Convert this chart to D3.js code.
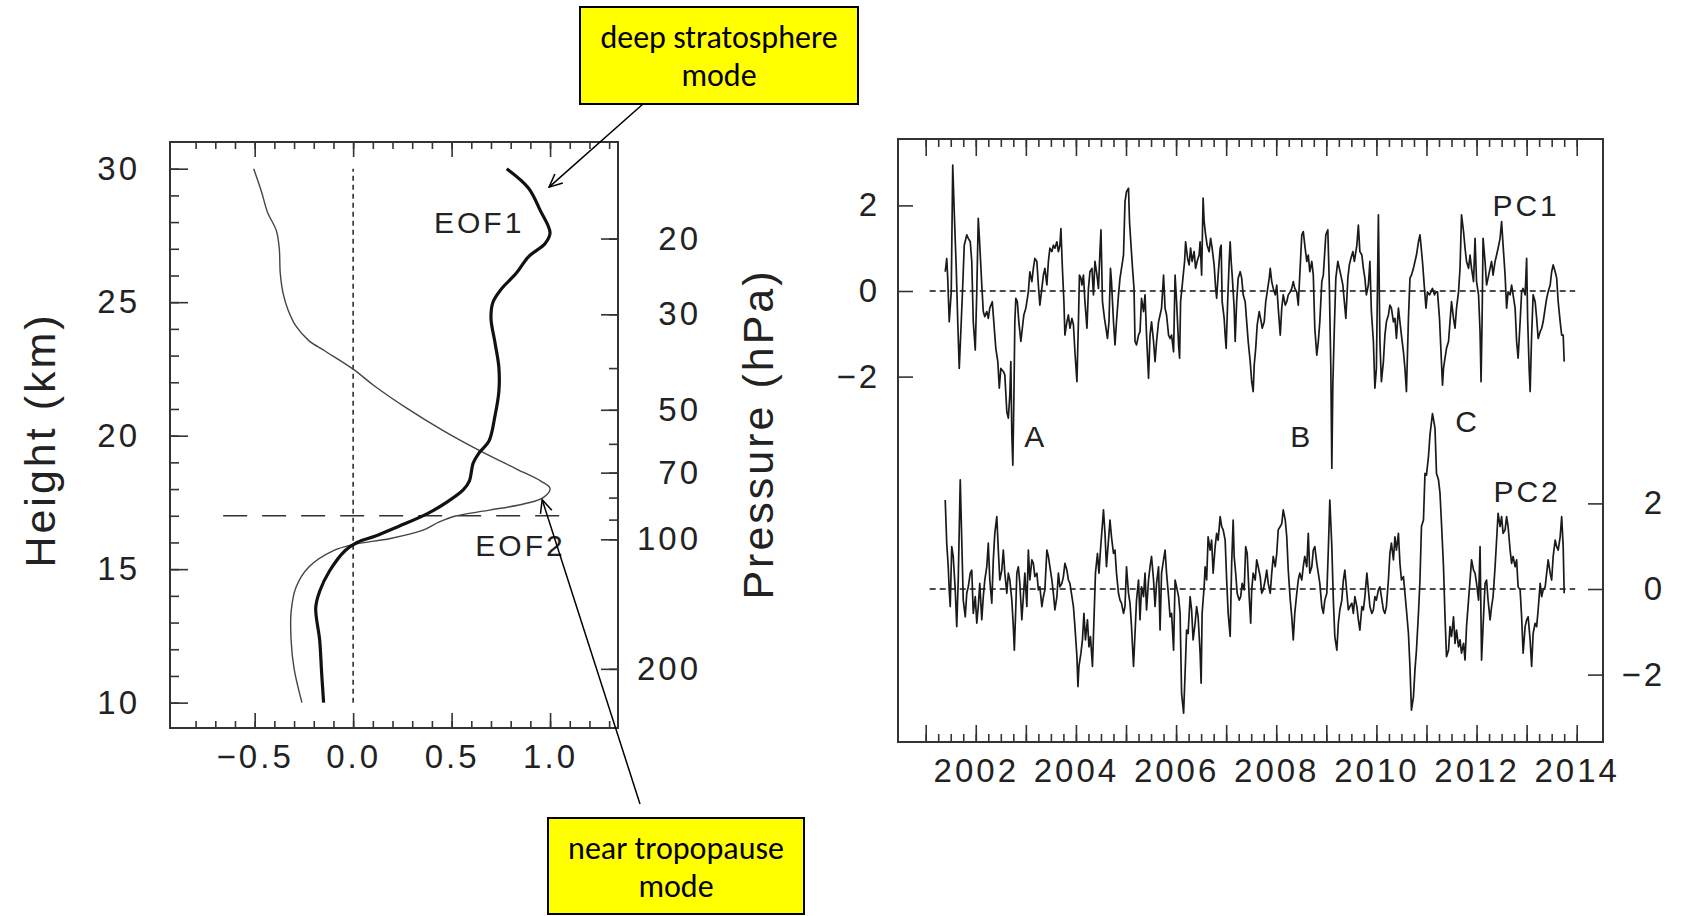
<!DOCTYPE html>
<html>
<head>
<meta charset="utf-8">
<script src="https://cdn.jsdelivr.net/npm/d3@7"></script>
<style>
  body { margin: 0; background: #fff; }
  svg { display: block; }
  .axis text { font-family: "Liberation Sans", Arial, sans-serif; font-size: 33px; fill: #222; letter-spacing: 3px; }
  .axis line { stroke: #333; stroke-width: 1.6; }
  .axis path { display: none; }
  .title { font-family: "Liberation Sans", Arial, sans-serif; font-size: 43px; fill: #222; letter-spacing: 3px; }
  .note { font-family: "Liberation Sans", Arial, sans-serif; font-size: 30px; fill: #222; letter-spacing: 3px; }
  .callout { font-family: Carlito, Lato, "Open Sans", sans-serif; font-size: 32px; fill: #000; }
</style>
</head>
<body>
<svg id="chart" width="1681" height="916"></svg>
<script>
// ---- left panel: EOF profiles (height in km, loading) ----
const eof1Height = [30, 29.28, 28.44, 27.6, 27.2, 26.7, 26.1, 25.47, 25.0, 24.4, 23.5, 22.56, 21.65, 20.73, 19.8, 19.36, 18.98, 18.3, 17.98, 17.53, 17.07, 16.6, 16.23, 16.0, 15.7, 14.93, 14.17, 13.56, 12.34, 11.12, 10.0];
const eof1Value = [0.78, 0.89, 0.95, 1.0, 0.975, 0.89, 0.83, 0.75, 0.71, 0.70, 0.72, 0.74, 0.74, 0.72, 0.69, 0.64, 0.61, 0.59, 0.56, 0.48, 0.375, 0.23, 0.11, 0.02, -0.04, -0.12, -0.17, -0.19, -0.17, -0.16, -0.15];
const eof2Height = [30, 29.13, 28.37, 27.68, 27.0, 26.08, 25.31, 24.7, 24.1, 23.56, 23.18, 22.49, 21.88, 21.04, 20.2, 19.43, 18.75, 18.29, 18.02, 17.68, 17.45, 17.2, 16.99, 16.76, 16.46, 16.15, 15.92, 15.69, 15.08, 14.32, 13.4, 12.34, 11.27, 10.0];
const eof2Value = [-0.505, -0.465, -0.435, -0.39, -0.375, -0.37, -0.355, -0.33, -0.29, -0.225, -0.145, 0.0, 0.105, 0.27, 0.455, 0.645, 0.83, 0.955, 1.0, 0.965, 0.87, 0.685, 0.52, 0.435, 0.355, 0.19, 0.0, -0.10, -0.225, -0.29, -0.315, -0.315, -0.30, -0.26];
const tropopauseHeight = 17;

const heightLabels = [10, 15, 20, 25, 30];
const eofLabels = [-0.5, 0.0, 0.5, 1.0];
const pressureTicks = [20, 30, 40, 50, 60, 70, 80, 90, 100, 200];
const pressureLabels = [20, 30, 50, 70, 100, 200];

// ---- right panel: principal component time series [decimal year, value] ----
const pc1 = [[2001.39,0.45],[2001.42,0.76],[2001.44,0.30],[2001.47,-0.72],[2001.51,-0.02],[2001.54,2.94],[2001.57,1.85],[2001.61,0.53],[2001.64,-0.72],[2001.67,-1.81],[2001.71,-0.72],[2001.74,0.14],[2001.77,1.07],[2001.82,1.31],[2001.85,1.23],[2001.89,1.15],[2001.92,0.69],[2001.95,-0.72],[2001.99,-1.38],[2002.02,-0.02],[2002.05,1.70],[2002.08,1.07],[2002.12,0.14],[2002.15,-0.48],[2002.18,-0.60],[2002.22,-0.48],[2002.25,-0.64],[2002.28,-0.40],[2002.33,-0.25],[2002.36,-0.72],[2002.40,-1.34],[2002.44,-1.65],[2002.47,-2.27],[2002.50,-1.81],[2002.55,-1.88],[2002.58,-1.96],[2002.62,-2.82],[2002.65,-2.97],[2002.68,-2.43],[2002.70,-1.65],[2002.72,-3.36],[2002.74,-4.07],[2002.76,-2.59],[2002.78,-0.72],[2002.80,-0.17],[2002.83,-0.25],[2002.86,-0.72],[2002.90,-1.18],[2002.93,-0.87],[2002.96,-0.56],[2003.00,-0.40],[2003.05,-0.02],[2003.08,0.45],[2003.12,0.22],[2003.15,0.53],[2003.18,0.76],[2003.22,0.69],[2003.25,0.14],[2003.28,-0.33],[2003.32,0.06],[2003.35,0.37],[2003.38,0.53],[2003.42,0.14],[2003.45,0.69],[2003.48,1.00],[2003.52,0.92],[2003.55,1.07],[2003.58,1.00],[2003.62,1.15],[2003.65,0.92],[2003.68,1.07],[2003.70,1.46],[2003.73,0.53],[2003.76,-0.25],[2003.78,-1.03],[2003.82,-0.72],[2003.85,-0.56],[2003.88,-0.87],[2003.92,-0.64],[2003.95,-0.79],[2003.98,-1.42],[2004.02,-2.12],[2004.05,-0.72],[2004.07,0.37],[2004.10,0.30],[2004.12,0.14],[2004.15,0.37],[2004.18,-0.25],[2004.22,-0.87],[2004.25,0.06],[2004.28,0.45],[2004.32,0.53],[2004.35,-0.09],[2004.38,0.69],[2004.42,0.37],[2004.45,0.06],[2004.48,0.92],[2004.50,1.43],[2004.53,-0.25],[2004.57,-0.64],[2004.60,-0.87],[2004.63,-1.11],[2004.66,-0.72],[2004.69,0.53],[2004.71,0.22],[2004.75,-0.72],[2004.78,-1.26],[2004.81,-0.72],[2004.85,-0.09],[2004.88,0.30],[2004.91,0.53],[2004.95,0.84],[2004.98,2.09],[2005.01,2.32],[2005.05,2.40],[2005.07,1.62],[2005.10,1.07],[2005.13,0.53],[2005.16,0.06],[2005.18,-1.18],[2005.21,-1.26],[2005.25,-1.03],[2005.28,-0.95],
  [2005.31,-0.17],[2005.35,-0.48],[2005.38,-0.09],[2005.41,-1.03],[2005.45,-2.04],[2005.48,-1.03],[2005.51,-0.72],[2005.55,-1.18],[2005.58,-1.65],[2005.61,-1.18],[2005.65,-0.72],[2005.68,-0.56],[2005.71,-0.40],[2005.75,0.37],[2005.78,-0.40],[2005.81,-0.56],[2005.85,-1.03],[2005.88,-1.11],[2005.91,-1.03],[2005.95,-1.42],[2005.98,0.37],[2006.01,-0.25],[2006.05,-1.26],[2006.07,-1.57],[2006.09,-0.25],[2006.13,0.22],[2006.17,0.69],[2006.19,1.15],[2006.23,0.76],[2006.26,0.61],[2006.29,1.00],[2006.32,0.69],[2006.36,0.92],[2006.39,0.53],[2006.42,0.69],[2006.46,0.84],[2006.48,1.15],[2006.51,0.37],[2006.54,2.17],[2006.56,1.62],[2006.59,1.31],[2006.62,1.07],[2006.66,0.92],[2006.69,1.23],[2006.72,1.00],[2006.76,0.61],[2006.79,0.06],[2006.81,-0.17],[2006.84,0.37],[2006.88,1.00],[2006.90,1.07],[2006.92,-0.25],[2006.96,-0.64],[2006.98,-1.03],[2007.00,-1.34],[2007.03,-0.25],[2007.06,0.69],[2007.08,1.15],[2007.10,0.69],[2007.12,0.37],[2007.16,-0.40],[2007.18,-1.18],[2007.21,-0.25],[2007.24,0.30],[2007.28,0.45],[2007.31,0.30],[2007.34,-0.09],[2007.38,-0.25],[2007.41,-0.72],[2007.44,-1.18],[2007.48,-1.65],[2007.51,-2.12],[2007.54,-2.35],[2007.56,-1.73],[2007.59,-1.34],[2007.62,-0.79],[2007.66,-0.48],[2007.70,-0.72],[2007.72,-0.87],[2007.76,-0.72],[2007.79,-0.25],[2007.82,-0.02],[2007.86,0.30],[2007.88,0.53],[2007.91,0.22],[2007.94,0.06],[2007.98,-0.09],[2008.01,0.14],[2008.04,-0.40],[2008.08,-1.03],[2008.11,-0.40],[2008.14,-0.09],[2008.18,-0.33],[2008.21,-0.25],[2008.24,-0.09],[2008.28,-0.02],[2008.31,0.06],[2008.34,0.22],[2008.37,0.06],[2008.41,-0.02],[2008.44,-0.33],[2008.47,0.37],[2008.51,1.31],[2008.54,1.39],[2008.57,1.07],[2008.61,0.69],[2008.64,0.84],[2008.67,0.45],[2008.71,0.69],[2008.74,0.37],[2008.77,-0.87],[2008.81,-1.50],[2008.84,-1.18],[2008.87,-0.72],[2008.91,0.22],[2008.94,0.37],[2008.99,1.31],[2009.03,1.43],[2009.06,0.14],[2009.09,-1.81],[2009.11,-4.14],[2009.13,-2.20],[2009.16,-0.87],[2009.19,0.30],[2009.23,0.69],[2009.26,0.53],[2009.29,0.37],[2009.33,0.14],[2009.36,-0.25],[2009.39,-0.64],[2009.43,0.30],[2009.46,0.61],[2009.49,0.76],[2009.53,0.92],[2009.56,0.69],
  [2009.61,1.07],[2009.64,1.54],[2009.67,0.92],[2009.71,0.84],[2009.74,0.53],[2009.77,0.30],[2009.80,-0.09],[2009.84,0.14],[2009.87,0.69],[2009.90,-0.48],[2009.94,-1.18],[2009.97,-2.27],[2010.00,-1.81],[2010.04,1.78],[2010.07,-1.18],[2010.10,-2.12],[2010.14,-1.65],[2010.17,-1.03],[2010.20,-0.72],[2010.24,-0.56],[2010.27,-0.33],[2010.30,-0.40],[2010.34,-0.72],[2010.37,-0.64],[2010.40,-1.11],[2010.44,-0.40],[2010.47,-0.72],[2010.50,-1.03],[2010.54,-1.42],[2010.57,-1.81],[2010.60,-2.35],[2010.64,-0.64],[2010.67,0.30],[2010.70,0.37],[2010.74,0.53],[2010.77,0.69],[2010.80,0.84],[2010.84,1.15],[2010.87,1.31],[2010.89,1.07],[2010.92,0.69],[2010.96,0.06],[2010.99,-0.40],[2011.02,-0.02],[2011.06,-0.09],[2011.09,-0.02],[2011.12,0.06],[2011.16,-0.09],[2011.19,-0.02],[2011.22,-0.02],[2011.26,-0.64],[2011.29,-1.42],[2011.32,-2.20],[2011.34,-1.81],[2011.37,-1.57],[2011.40,-1.34],[2011.44,-1.18],[2011.47,-0.72],[2011.50,-0.25],[2011.54,-0.64],[2011.57,-0.87],[2011.60,-0.40],[2011.64,-0.02],[2011.67,0.53],[2011.70,1.78],[2011.74,1.39],[2011.77,1.00],[2011.80,0.69],[2011.84,0.53],[2011.87,0.84],[2011.90,0.53],[2011.94,0.22],[2011.97,1.23],[2012.00,0.22],[2012.04,-0.09],[2012.07,-0.95],[2012.09,-2.12],[2012.11,-0.72],[2012.13,1.23],[2012.17,0.69],[2012.20,0.14],[2012.23,0.30],[2012.27,0.53],[2012.30,0.69],[2012.33,0.37],[2012.37,0.69],[2012.40,0.84],[2012.43,1.00],[2012.47,1.23],[2012.50,1.62],[2012.53,1.07],[2012.57,0.37],[2012.60,-0.40],[2012.63,-0.02],[2012.67,-0.09],[2012.70,0.14],[2012.73,-0.09],[2012.77,-0.40],[2012.80,-1.18],[2012.83,-1.57],[2012.87,-0.72],[2012.90,-0.02],[2012.93,0.06],[2012.97,-0.09],[2013.00,0.76],[2013.02,-0.64],[2013.05,-1.81],[2013.07,-2.35],[2013.10,-1.03],[2013.13,-0.09],[2013.17,-0.25],[2013.20,-0.64],[2013.23,-1.11],[2013.27,-0.95],[2013.30,-0.87],[2013.33,-0.72],[2013.37,-0.40],[2013.40,-0.17],[2013.43,-0.02],[2013.47,0.14],[2013.50,0.45],[2013.53,0.61],[2013.57,0.45],[2013.60,0.30],[2013.63,-0.25],[2013.67,-0.72],[2013.70,-1.03],[2013.73,-1.03],[2013.75,-1.65]];

const pc2 = [[2001.39,2.08],[2001.42,1.07],[2001.45,0.52],[2001.47,-0.02],[2001.49,-0.41],[2001.52,0.99],[2001.55,0.76],[2001.59,-0.02],[2001.62,-0.88],[2001.65,0.21],[2001.69,2.55],[2001.72,1.14],[2001.75,-0.26],[2001.79,-0.65],[2001.82,-0.10],[2001.85,0.05],[2001.89,0.37],[2001.92,0.44],[2001.95,-0.57],[2001.99,-0.18],[2002.02,-0.80],[2002.05,-0.41],[2002.08,0.13],[2002.12,-0.72],[2002.15,-0.18],[2002.18,0.21],[2002.22,0.52],[2002.25,1.07],[2002.28,0.21],[2002.32,-0.33],[2002.35,0.68],[2002.38,1.30],[2002.42,1.69],[2002.45,0.91],[2002.48,0.21],[2002.52,0.44],[2002.55,0.91],[2002.58,0.37],[2002.62,-0.10],[2002.65,0.37],[2002.68,0.21],[2002.72,-0.26],[2002.75,-0.88],[2002.77,-1.43],[2002.80,-0.41],[2002.82,0.37],[2002.85,0.52],[2002.88,0.13],[2002.92,-0.72],[2002.95,-0.18],[2002.98,0.37],[2003.02,-0.41],[2003.05,0.91],[2003.08,0.21],[2003.12,0.68],[2003.15,0.60],[2003.18,0.29],[2003.22,0.37],[2003.25,-0.02],[2003.28,0.05],[2003.32,-0.41],[2003.35,-0.18],[2003.38,-0.02],[2003.42,0.91],[2003.45,0.76],[2003.48,0.52],[2003.52,0.21],[2003.55,-0.10],[2003.58,-0.49],[2003.62,-0.18],[2003.65,0.37],[2003.68,0.05],[2003.72,0.13],[2003.75,0.29],[2003.78,0.60],[2003.82,0.44],[2003.85,0.21],[2003.88,0.13],[2003.92,-0.18],[2003.95,-0.41],[2003.98,-0.88],[2004.02,-1.58],[2004.04,-2.28],[2004.06,-1.81],[2004.10,-1.50],[2004.13,-1.19],[2004.16,-0.57],[2004.19,-1.19],[2004.23,-0.72],[2004.26,-1.35],[2004.29,-1.11],[2004.33,-1.81],[2004.36,-0.72],[2004.39,0.37],[2004.43,0.83],[2004.46,0.37],[2004.49,0.91],[2004.53,1.53],[2004.55,1.85],[2004.58,1.30],[2004.61,0.52],[2004.65,1.14],[2004.68,1.61],[2004.71,1.22],[2004.75,0.83],[2004.78,0.91],[2004.81,0.37],[2004.85,-0.10],[2004.88,-0.26],[2004.91,-0.33],[2004.95,-0.57],[2004.98,-0.41],[2005.01,0.52],[2005.05,-0.10],[2005.08,-0.33],[2005.11,-0.88],[2005.15,-1.81],[2005.18,-1.04],[2005.21,-0.26],[2005.25,0.21],
  [2005.28,-0.72],[2005.31,0.05],[2005.35,-0.18],[2005.38,0.37],[2005.41,-0.49],[2005.45,0.21],[2005.48,0.52],[2005.51,0.76],[2005.55,0.21],[2005.58,-0.41],[2005.61,0.13],[2005.65,0.52],[2005.68,-0.96],[2005.71,0.37],[2005.75,0.68],[2005.78,0.91],[2005.81,0.37],[2005.85,-0.18],[2005.88,-0.65],[2005.91,-0.57],[2005.95,-1.43],[2005.98,0.21],[2006.01,0.05],[2006.05,-0.18],[2006.08,-0.57],[2006.11,-2.44],[2006.15,-2.90],[2006.18,-1.97],[2006.21,-0.96],[2006.24,-1.04],[2006.28,-0.18],[2006.31,-0.49],[2006.34,-1.19],[2006.38,-0.80],[2006.41,-0.41],[2006.44,-0.65],[2006.48,-1.50],[2006.50,-2.20],[2006.52,-0.57],[2006.56,0.05],[2006.58,0.52],[2006.61,0.21],[2006.64,1.22],[2006.68,0.91],[2006.71,1.14],[2006.74,0.37],[2006.78,0.99],[2006.81,1.30],[2006.84,1.14],[2006.88,1.69],[2006.91,1.46],[2006.94,1.38],[2006.98,1.14],[2007.01,0.21],[2007.04,-0.57],[2007.08,-1.11],[2007.11,0.60],[2007.14,1.61],[2007.16,0.76],[2007.19,0.37],[2007.22,-0.10],[2007.26,-0.26],[2007.29,-0.18],[2007.32,0.13],[2007.36,-0.02],[2007.39,0.99],[2007.42,0.83],[2007.46,-0.18],[2007.49,-0.80],[2007.51,-0.02],[2007.54,0.37],[2007.58,0.21],[2007.61,0.68],[2007.64,0.52],[2007.68,0.29],[2007.71,-0.10],[2007.74,-0.02],[2007.78,0.21],[2007.81,0.44],[2007.84,0.13],[2007.88,-0.10],[2007.91,0.37],[2007.94,0.76],[2007.98,0.52],[2008.01,0.83],[2008.04,1.38],[2008.08,1.46],[2008.11,1.53],[2008.14,1.85],[2008.18,1.61],[2008.21,1.22],[2008.24,0.44],[2008.28,-0.26],[2008.31,-0.65],[2008.34,-1.19],[2008.37,-0.57],[2008.41,-0.10],[2008.44,0.21],[2008.47,0.37],[2008.51,0.21],[2008.54,0.52],[2008.57,0.76],[2008.61,0.52],[2008.64,1.30],[2008.67,0.37],[2008.71,0.52],[2008.74,0.91],[2008.77,0.99],[2008.81,0.60],[2008.84,0.37],[2008.87,0.13],[2008.91,-0.41],[2008.94,-0.57],[2008.97,-0.26],[2009.01,-0.10],[2009.04,0.91],[2009.07,2.08],[2009.11,0.99],[2009.14,-0.26],[2009.17,-1.11],[2009.21,-1.43],[2009.24,-0.80],[2009.27,-0.49],[2009.31,-0.26],[2009.34,0.21],[2009.37,0.44],[2009.41,-0.10],[2009.44,-0.49],[2009.47,-0.41],[2009.51,-0.33],[2009.54,-0.57],
  [2009.57,-0.18],[2009.61,-0.41],[2009.64,-0.72],[2009.67,-0.96],[2009.71,-0.41],[2009.74,-0.49],[2009.77,-0.18],[2009.81,0.37],[2009.84,-0.02],[2009.87,-0.41],[2009.91,-0.57],[2009.94,-0.49],[2009.97,-0.18],[2010.00,-0.26],[2010.04,-0.02],[2010.07,0.05],[2010.10,-0.18],[2010.14,-0.49],[2010.17,-0.57],[2010.20,-0.41],[2010.24,0.21],[2010.27,0.83],[2010.30,1.07],[2010.34,0.68],[2010.37,1.22],[2010.40,0.91],[2010.44,1.30],[2010.47,0.60],[2010.50,0.21],[2010.54,0.29],[2010.57,-0.10],[2010.60,-0.49],[2010.64,-1.04],[2010.67,-1.81],[2010.70,-2.83],[2010.74,-2.52],[2010.77,-1.89],[2010.80,-1.43],[2010.84,-0.57],[2010.87,0.21],[2010.90,1.46],[2010.94,1.61],[2010.97,2.70],[2011.00,2.66],[2011.04,3.10],[2011.07,3.60],[2011.12,4.10],[2011.17,3.76],[2011.20,2.70],[2011.24,2.55],[2011.27,2.24],[2011.30,1.53],[2011.34,0.52],[2011.37,-0.65],[2011.40,-1.58],[2011.44,-1.43],[2011.47,-0.88],[2011.50,-1.11],[2011.54,-0.65],[2011.57,-1.27],[2011.60,-0.96],[2011.64,-1.35],[2011.67,-1.19],[2011.70,-1.50],[2011.74,-1.27],[2011.77,-1.66],[2011.80,-0.88],[2011.84,-0.26],[2011.87,0.21],[2011.90,0.68],[2011.94,0.44],[2011.97,0.37],[2012.00,0.13],[2012.04,-0.26],[2012.07,0.99],[2012.10,-1.66],[2012.13,-0.88],[2012.17,0.13],[2012.20,0.21],[2012.23,-0.26],[2012.27,-0.72],[2012.30,-0.41],[2012.33,-0.18],[2012.37,0.52],[2012.40,1.14],[2012.43,1.77],[2012.47,1.46],[2012.50,1.69],[2012.53,1.30],[2012.57,1.38],[2012.60,1.69],[2012.63,1.46],[2012.67,0.91],[2012.70,0.60],[2012.73,0.76],[2012.77,0.52],[2012.80,0.68],[2012.83,0.05],[2012.87,-0.02],[2012.90,-0.65],[2012.93,-1.50],[2012.97,-0.88],[2013.00,-0.72],[2013.03,-0.65],[2013.07,-1.19],[2013.10,-1.81],[2013.13,-1.04],[2013.17,-0.80],[2013.20,-0.88],[2013.23,-0.49],[2013.27,0.13],[2013.30,-0.18],[2013.33,-0.02],[2013.37,0.05],[2013.40,0.37],[2013.43,0.68],[2013.47,0.37],[2013.50,0.21],[2013.53,0.76],[2013.57,1.14],[2013.60,0.99],[2013.63,0.91],[2013.67,1.22],[2013.70,1.69],[2013.73,0.99],[2013.75,-0.10]];

const yearTicks = d3.range(2001, 2015);
const yearLabels = [2002, 2004, 2006, 2008, 2010, 2012, 2014];
const pcTicks = [-2, 0, 2];

const svg = d3.select('#chart');

// ================= left panel =================
const L = { left: 170, right: 618, top: 142, bottom: 728 };
const xEof = d3.scaleLinear().domain([-0.93, 1.345]).range([L.left, L.right]);
const yKm = d3.scaleLinear().domain([9.05, 31]).range([L.bottom, L.top]);
const pToKm = p => 7 * Math.log(1000 / p); // scale height 7 km

const left = svg.append('g');

const eofMinor = d3.range(-8, 14).map(d => d / 10);
left.append('g').attr('class', 'axis').attr('transform', `translate(0,${L.bottom})`)
  .call(d3.axisBottom(xEof).tickValues(eofMinor).tickSize(-7).tickFormat(''));
left.append('g').attr('class', 'axis').attr('transform', `translate(0,${L.bottom})`)
  .call(d3.axisBottom(xEof).tickValues(eofLabels).tickSize(-15).tickPadding(17).tickFormat(d3.format('.1f')));
left.append('g').attr('class', 'axis').attr('transform', `translate(0,${L.top})`)
  .call(d3.axisTop(xEof).tickValues(eofMinor).tickSize(-7).tickFormat(''));
left.append('g').attr('class', 'axis').attr('transform', `translate(0,${L.top})`)
  .call(d3.axisTop(xEof).tickValues(eofLabels).tickSize(-15).tickFormat(''));

left.append('g').attr('class', 'axis').attr('transform', `translate(${L.left},0)`)
  .call(d3.axisLeft(yKm).tickValues(d3.range(10, 31)).tickSize(-9).tickFormat(''));
left.append('g').attr('class', 'axis').attr('transform', `translate(${L.left},0)`)
  .call(d3.axisLeft(yKm).tickValues(heightLabels).tickSize(-18).tickPadding(30).tickFormat(d3.format('d')));

// pressure axis on the right
left.append('g').attr('class', 'axis').attr('transform', `translate(${L.right},0)`)
  .call(d3.axisRight(yKm).tickValues(pressureTicks.map(pToKm)).tickSize(-9).tickFormat(''));
const pAxis = left.append('g').attr('class', 'axis').attr('transform', `translate(${L.right},0)`)
  .call(d3.axisRight(yKm).tickValues(pressureLabels.map(pToKm)).tickSize(-17)
    .tickFormat((d, i) => pressureLabels[i]));
pAxis.selectAll('text').attr('text-anchor', 'end').attr('x', 83);

left.append('rect')
  .attr('x', L.left).attr('y', L.top)
  .attr('width', L.right - L.left).attr('height', L.bottom - L.top)
  .attr('fill', 'none').attr('stroke', '#333').attr('stroke-width', 2);

// zero line and tropopause line
left.append('line')
  .attr('x1', xEof(0)).attr('x2', xEof(0))
  .attr('y1', yKm(10)).attr('y2', yKm(30))
  .attr('stroke', '#222').attr('stroke-width', 1.5).attr('stroke-dasharray', '5,4');
left.append('line')
  .attr('x1', xEof(-0.66)).attr('x2', xEof(1.09))
  .attr('y1', yKm(tropopauseHeight)).attr('y2', yKm(tropopauseHeight))
  .attr('stroke', '#333').attr('stroke-width', 1.4).attr('stroke-dasharray', '24,15');

const eofLine = d3.line()
  .x(d => xEof(d[1]))
  .y(d => yKm(d[0]))
  .curve(d3.curveCatmullRom.alpha(0.5));

left.append('path')
  .attr('d', eofLine(d3.zip(eof2Height, eof2Value)))
  .attr('fill', 'none').attr('stroke', '#444').attr('stroke-width', 1.4);
left.append('path')
  .attr('d', eofLine(d3.zip(eof1Height, eof1Value)))
  .attr('fill', 'none').attr('stroke', '#111').attr('stroke-width', 3.2);

left.append('text').attr('class', 'note')
  .attr('x', xEof(0.64)).attr('y', yKm(28.0)).attr('text-anchor', 'middle').attr('dy', '0.35em')
  .text('EOF1');
left.append('text').attr('class', 'note')
  .attr('x', xEof(0.85)).attr('y', yKm(15.9)).attr('text-anchor', 'middle').attr('dy', '0.35em')
  .text('EOF2');

left.append('text').attr('class', 'title')
  .attr('transform', 'translate(55,440) rotate(-90)')
  .attr('text-anchor', 'middle')
  .text('Height (km)');
left.append('text').attr('class', 'title')
  .attr('transform', 'translate(773,434) rotate(-90)')
  .attr('text-anchor', 'middle')
  .text('Pressure (hPa)');

// ================= right panel =================
const R = { left: 898, right: 1603, top: 139, bottom: 742 };
const xYear = d3.scaleLinear().domain([2000.447, 2014.525]).range([R.left, R.right]);
const yPc1 = d3.scaleLinear().domain([-2, 2]).range([376.6, 205.4]);
const yPc2 = d3.scaleLinear().domain([-2, 2]).range([674.6, 503.4]);

const right = svg.append('g');
const quarters = d3.range(2001, 2014.01, 0.25);

right.append('g').attr('class', 'axis').attr('transform', `translate(0,${R.bottom})`)
  .call(d3.axisBottom(xYear).tickValues(quarters).tickSize(-8).tickFormat(''));
right.append('g').attr('class', 'axis').attr('transform', `translate(0,${R.bottom})`)
  .call(d3.axisBottom(xYear).tickValues(yearTicks).tickSize(-17).tickPadding(17)
    .tickFormat(d => yearLabels.includes(d) ? String(d) : ''));
right.append('g').attr('class', 'axis').attr('transform', `translate(0,${R.top})`)
  .call(d3.axisTop(xYear).tickValues(quarters).tickSize(-8).tickFormat(''));
right.append('g').attr('class', 'axis').attr('transform', `translate(0,${R.top})`)
  .call(d3.axisTop(xYear).tickValues(yearTicks).tickSize(-17).tickFormat(''));

right.append('g').attr('class', 'axis').attr('transform', `translate(${R.left},0)`)
  .call(d3.axisLeft(yPc1).tickValues(pcTicks).tickSize(-15).tickPadding(18).tickFormat(d3.format('d')));
const pc2Axis = right.append('g').attr('class', 'axis').attr('transform', `translate(${R.right},0)`)
  .call(d3.axisRight(yPc2).tickValues(pcTicks).tickSize(-15).tickFormat(d3.format('d')));
pc2Axis.selectAll('text').attr('text-anchor', 'end').attr('x', 62);

right.append('rect')
  .attr('x', R.left).attr('y', R.top)
  .attr('width', R.right - R.left).attr('height', R.bottom - R.top)
  .attr('fill', 'none').attr('stroke', '#333').attr('stroke-width', 2);

[yPc1, yPc2].forEach(y => {
  right.append('line')
    .attr('x1', xYear(2001.08)).attr('x2', xYear(2013.97))
    .attr('y1', y(0)).attr('y2', y(0))
    .attr('stroke', '#111').attr('stroke-width', 1.5).attr('stroke-dasharray', '6,4');
});

const pcLine = y => d3.line().x(d => xYear(d[0])).y(d => y(d[1]));
right.append('path').attr('d', pcLine(yPc1)(pc1))
  .attr('fill', 'none').attr('stroke', '#1a1a1a').attr('stroke-width', 1.7).attr('stroke-linejoin', 'round');
right.append('path').attr('d', pcLine(yPc2)(pc2))
  .attr('fill', 'none').attr('stroke', '#1a1a1a').attr('stroke-width', 1.7).attr('stroke-linejoin', 'round');

const pcNotes = [
  { t: 'PC1', x: 2012.99, y: yPc1(1.99) },
  { t: 'PC2', x: 2013.01, y: yPc2(2.27) },
  { t: 'A', x: 2003.2, y: yPc1(-3.41) },
  { t: 'B', x: 2008.51, y: yPc1(-3.41) },
  { t: 'C', x: 2011.82, y: yPc1(-3.06) }
];
right.selectAll('text.pcnote').data(pcNotes).enter().append('text')
  .attr('class', 'note pcnote')
  .attr('x', d => xYear(d.x)).attr('y', d => d.y)
  .attr('text-anchor', 'middle').attr('dy', '0.35em')
  .text(d => d.t);

// ================= callouts =================
svg.append('defs').append('marker')
  .attr('id', 'open-arrow').attr('viewBox', '-14 -8 16 16')
  .attr('refX', 0).attr('refY', 0)
  .attr('markerWidth', 16).attr('markerHeight', 16).attr('markerUnits', 'userSpaceOnUse')
  .attr('orient', 'auto')
  .append('path').attr('d', 'M-13,-6 L0,0 L-13,6')
  .attr('fill', 'none').attr('stroke', '#000').attr('stroke-width', 1.5);

const callouts = [
  { lines: ['deep stratosphere', 'mode'], box: [580, 7, 278, 97], base: [48, 86], from: [643, 104], to: [0.995, 29.31] },
  { lines: ['near tropopause', 'mode'], box: [548, 818, 256, 96], base: [859, 897], from: [640, 804], to: [0.96, 17.6] }
];
callouts.forEach(c => {
  svg.append('line')
    .attr('x1', c.from[0]).attr('y1', c.from[1])
    .attr('x2', xEof(c.to[0])).attr('y2', yKm(c.to[1]))
    .attr('stroke', '#000').attr('stroke-width', 1.5)
    .attr('marker-end', 'url(#open-arrow)');
  svg.append('rect')
    .attr('x', c.box[0]).attr('y', c.box[1]).attr('width', c.box[2]).attr('height', c.box[3])
    .attr('fill', '#ffff00').attr('stroke', '#000').attr('stroke-width', 2);
  c.lines.forEach((s, i) => {
    svg.append('text').attr('class', 'callout')
      .attr('x', c.box[0] + c.box[2] / 2).attr('y', c.base[i])
      .attr('text-anchor', 'middle')
      .text(s);
  });
});
</script>
</body>
</html>
